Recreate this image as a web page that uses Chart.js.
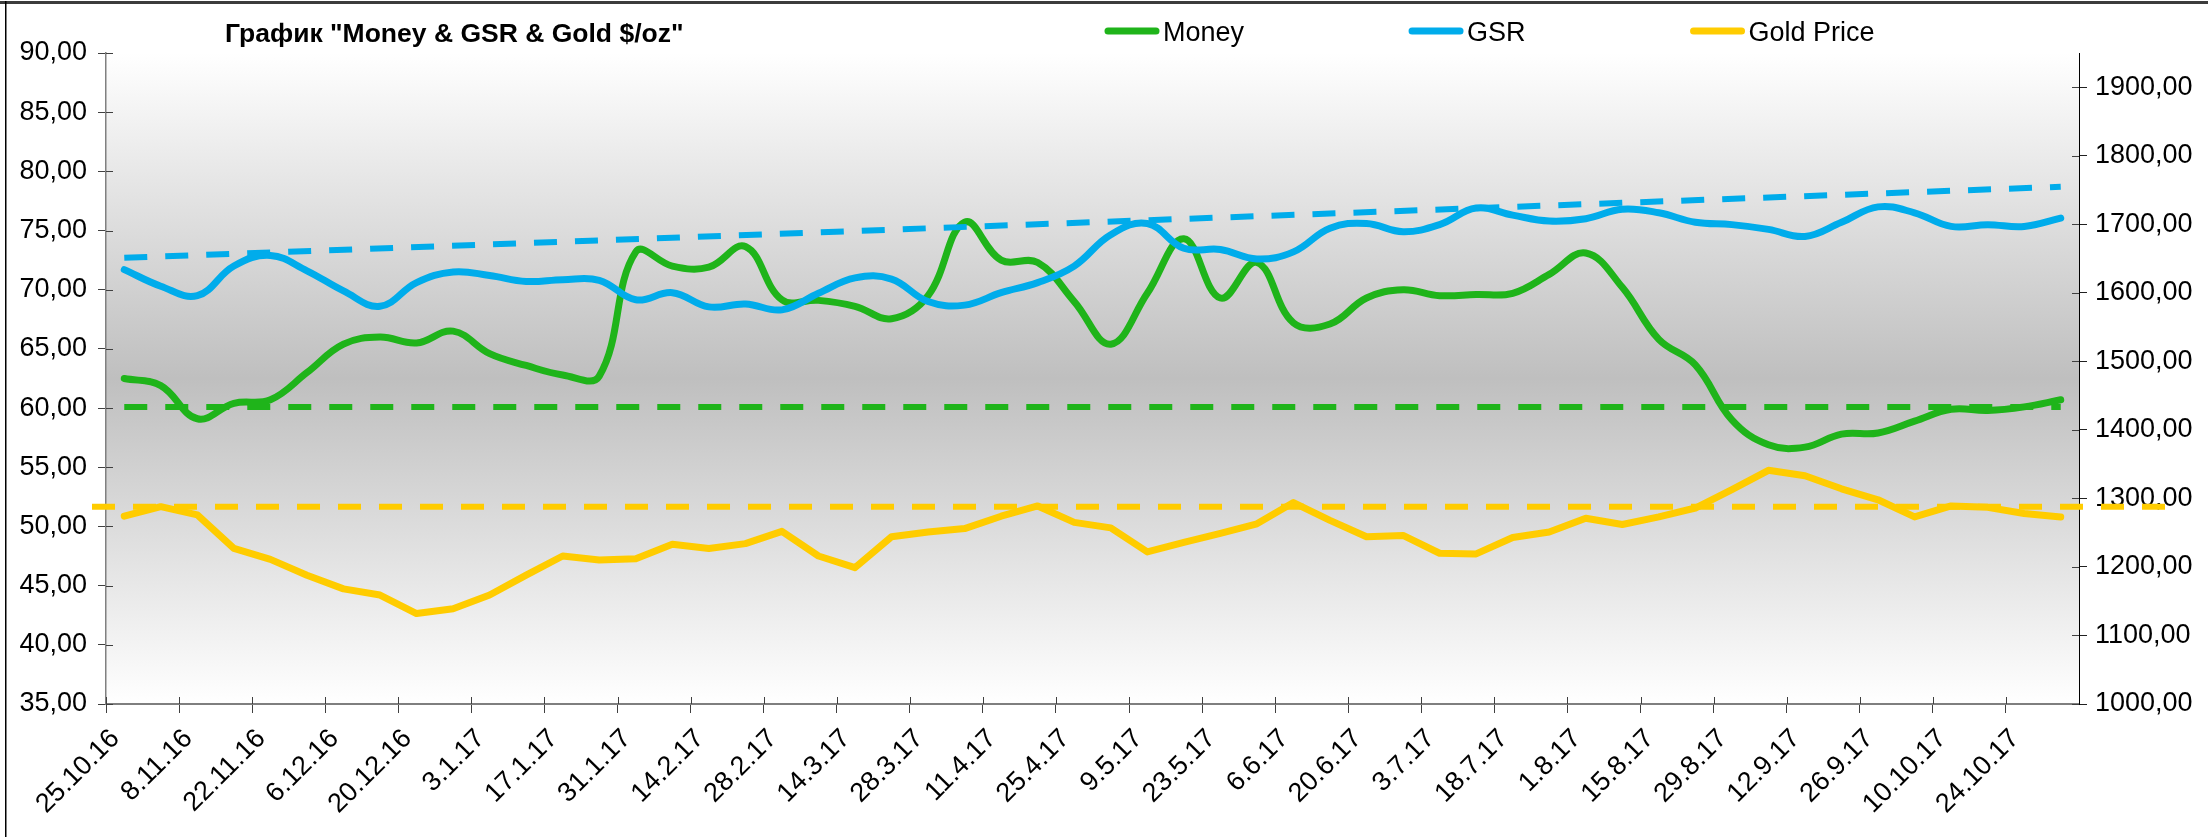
<!DOCTYPE html>
<html>
<head>
<meta charset="utf-8">
<title>Money & GSR & Gold $/oz</title>
<script src="https://cdn.jsdelivr.net/npm/chart.js@4.4.1/dist/chart.umd.min.js"></script>
<style>
  html, body { margin: 0; padding: 0; background: #fff; }
  #wrap { width: 2208px; height: 837px; position: relative; }
</style>
</head>
<body>
<div id="wrap"><canvas id="chart" width="2208" height="837"></canvas></div>
<script>
// weekly report dates (every second one is labelled on the axis)
const labels = [
  '25.10.16', '1.11.16', '8.11.16', '15.11.16', '22.11.16', '29.11.16', '6.12.16', '13.12.16',
  '20.12.16', '27.12.16', '3.1.17', '10.1.17', '17.1.17', '24.1.17', '31.1.17', '7.2.17',
  '14.2.17', '21.2.17', '28.2.17', '7.3.17', '14.3.17', '21.3.17', '28.3.17', '4.4.17',
  '11.4.17', '18.4.17', '25.4.17', '2.5.17', '9.5.17', '16.5.17', '23.5.17', '30.5.17',
  '6.6.17', '13.6.17', '20.6.17', '27.6.17', '3.7.17', '11.7.17', '18.7.17', '25.7.17',
  '1.8.17', '8.8.17', '15.8.17', '22.8.17', '29.8.17', '5.9.17', '12.9.17', '19.9.17',
  '26.9.17', '3.10.17', '10.10.17', '17.10.17', '24.10.17', '31.10.17'
];

const money = [
  62.5, 61.9, 59.1, 60.4, 60.7, 63.0, 65.4, 66.0, 65.5, 66.5, 64.6, 63.6, 62.8, 62.7,
  73.2, 72.0, 71.9, 73.65, 69.15, 69.1, 68.6, 67.55, 69.5, 75.7, 72.5, 72.3, 69.0,
  65.4, 69.7, 74.3, 69.3, 72.3, 67.2, 67.1, 69.3, 70.0, 69.5, 69.6, 69.7, 71.3,
  73.1, 70.2, 65.8, 63.65, 59.0, 56.9, 56.7, 57.8, 57.9, 58.9, 59.9, 59.8, 60.1, 60.7
];

const gsr = [
  71.7, 70.3, 69.5, 72.0, 72.9, 71.6, 69.9, 68.6, 70.6, 71.5, 71.2, 70.7, 70.85, 70.8,
  69.15, 69.75, 68.55, 68.8, 68.3, 69.7, 71.0, 70.9, 69.0, 68.7, 69.75, 70.6, 72.0,
  74.65, 75.6, 73.5, 73.4, 72.6, 73.2, 75.2, 75.6, 74.9, 75.5, 76.9, 76.3, 75.8,
  76.0, 76.8, 76.5, 75.7, 75.5, 75.1, 74.5, 75.7, 77.0, 76.5, 75.35, 75.5, 75.35, 76.05
];

const gold = [
  1274, 1288, 1276, 1227, 1211, 1188, 1168, 1159, 1132, 1139, 1159, 1188, 1216, 1210,
  1212, 1233, 1227, 1234, 1252, 1216, 1199, 1244, 1251, 1256, 1274, 1289, 1265,
  1257, 1222, 1236, 1249, 1263, 1294, 1268, 1244, 1246, 1220, 1219, 1243, 1251,
  1271, 1262, 1273, 1286, 1313, 1341, 1333, 1314, 1298, 1273, 1289, 1287, 1278, 1273
];

// dashed reference lines
const gsrTrend = [72.7, 78.7];   // first and last week
const moneyLevel = 60.1;
const goldLevel = 1288;

const chartTitle = 'График "Money & GSR & Gold $/oz"';

const GREEN = '#1FB41A';
const BLUE = '#00ACEB';
const YELLOW = '#FFCC00';
const FONT = '"Liberation Sans", Arial, sans-serif';

Chart.defaults.font.family = FONT;
Chart.defaults.color = '#000';

const fmt = v => v.toFixed(2).replace('.', ',');

const plotBackground = {
  id: 'plotBackground',
  beforeDraw(chart) {
    const {ctx, chartArea: a} = chart;
    const g = ctx.createLinearGradient(0, a.top, 0, a.bottom);
    g.addColorStop(0, '#ffffff');
    g.addColorStop(0.5, '#bfbfbf');
    g.addColorStop(1, '#ffffff');
    ctx.save();
    ctx.fillStyle = g;
    ctx.fillRect(a.left, a.top, a.right - a.left, a.bottom - a.top);
    ctx.restore();
  }
};

const goldLevelLine = {
  id: 'goldLevelLine',
  afterDatasetsDraw(chart) {
    const {ctx, chartArea: a} = chart;
    const y = chart.scales.y2.getPixelForValue(goldLevel);
    ctx.save();
    ctx.strokeStyle = YELLOW;
    ctx.lineWidth = 6;
    ctx.setLineDash([23, 18]);
    ctx.beginPath();
    ctx.moveTo(a.left - 14, y);
    ctx.lineTo(a.right + 96, y);
    ctx.stroke();
    ctx.restore();
  }
};

// excel style "cross" tick marks: inner half of each tick
const innerTicks = {
  id: 'innerTicks',
  afterDraw(chart) {
    const {ctx, chartArea: a, scales} = chart;
    ctx.save();
    ctx.strokeStyle = '#404040';
    ctx.lineWidth = 1;
    ctx.beginPath();
    scales.y.ticks.forEach(t => {
      const p = Math.round(scales.y.getPixelForValue(t.value)) + 0.5;
      ctx.moveTo(a.left, p); ctx.lineTo(a.left + 7, p);
    });
    scales.y2.ticks.forEach(t => {
      const p = Math.round(scales.y2.getPixelForValue(t.value)) + 0.5;
      ctx.moveTo(a.right - 7, p); ctx.lineTo(a.right, p);
    });
    const step = scales.x.getPixelForValue(1) - scales.x.getPixelForValue(0);
    for (let i = 0; i < labels.length; i += 2) {
      const p = Math.round(scales.x.getPixelForValue(i) - step / 2) + 0.5;
      ctx.moveTo(p, a.bottom); ctx.lineTo(p, a.bottom - 7);
    }
    ctx.stroke();
    ctx.restore();
  }
};

const header = {
  id: 'header',
  afterDraw(chart) {
    const ctx = chart.ctx;
    ctx.save();
    // frame edges
    ctx.fillStyle = '#3c3c3c';
    ctx.fillRect(0, 1, 2208, 3);
    ctx.fillStyle = '#000';
    ctx.fillRect(5, 1, 1.5, 836);

    ctx.textBaseline = 'alphabetic';
    ctx.font = 'bold 26.5px ' + FONT;
    ctx.fillText(chartTitle, 225, 42);

    ctx.font = '27px ' + FONT;
    let x = 1104;
    chart.data.datasets.filter(d => d.inLegend).forEach(d => {
      ctx.strokeStyle = d.borderColor;
      ctx.lineWidth = 7;
      ctx.lineCap = 'round';
      ctx.beginPath();
      ctx.moveTo(x + 4, 31);
      ctx.lineTo(x + 52, 31);
      ctx.stroke();
      ctx.fillText(d.label, x + 59, 41);
      x += 59 + ctx.measureText(d.label).width + 164;
    });
    ctx.restore();
  }
};

new Chart(document.getElementById('chart'), {
  type: 'line',
  data: {
    labels: labels,
    datasets: [
      {
        label: 'Money', inLegend: true, data: money, yAxisID: 'y',
        borderColor: GREEN, borderWidth: 7, tension: 0.4,
        borderCapStyle: 'round', borderJoinStyle: 'round', pointRadius: 0, order: 3
      },
      {
        label: 'GSR', inLegend: true, data: gsr, yAxisID: 'y',
        borderColor: BLUE, borderWidth: 7, tension: 0.4,
        borderCapStyle: 'round', borderJoinStyle: 'round', pointRadius: 0, order: 2
      },
      {
        label: 'Gold Price', inLegend: true, data: gold, yAxisID: 'y2',
        borderColor: YELLOW, borderWidth: 7, tension: 0,
        borderCapStyle: 'round', borderJoinStyle: 'round', pointRadius: 0, order: 1
      },
      {
        label: 'GSR trend', data: [
          {x: labels[0], y: gsrTrend[0]},
          {x: labels[labels.length - 1], y: gsrTrend[1]}
        ], yAxisID: 'y',
        borderColor: BLUE, borderWidth: 6, borderDash: [23, 18], pointRadius: 0, order: 0
      },
      {
        label: 'Money level', data: [
          {x: labels[0], y: moneyLevel},
          {x: labels[labels.length - 1], y: moneyLevel}
        ], yAxisID: 'y',
        borderColor: GREEN, borderWidth: 6, borderDash: [23, 18], pointRadius: 0, order: 0
      }
    ]
  },
  options: {
    responsive: false,
    animation: false,
    devicePixelRatio: 1,
    layout: { padding: { top: 53, left: 0, right: 0, bottom: 0 } },
    plugins: {
      legend: { display: false },
      title: { display: false },
      tooltip: { enabled: false }
    },
    scales: {
      x: {
        offset: true,
        ticks: {
          autoSkip: false, maxRotation: 45, minRotation: 45, padding: 10, labelOffset: -9,
          font: { size: 27 },
          callback: (v, i) => (i % 2 === 0 ? labels[i] : '')
        },
        grid: {
          offset: true, drawOnChartArea: false, tickLength: 9,
          color: c => (c.index % 2 === 0 ? '#404040' : 'rgba(0,0,0,0)')
        },
        border: { color: '#7f7f7f', width: 2 },
        afterFit: s => { s.height = 133; }
      },
      y: {
        position: 'left', min: 35, max: 90,
        ticks: { stepSize: 5, padding: 11, font: { size: 27 }, callback: v => fmt(v) },
        grid: { drawOnChartArea: false, tickLength: 8, color: '#404040' },
        border: { color: '#808080', width: 1.5 },
        afterFit: s => { s.width = 106; }
      },
      y2: {
        position: 'right', min: 1000, max: 1950,
        ticks: { stepSize: 100, includeBounds: false, padding: 8, font: { size: 27 }, callback: v => fmt(v) },
        grid: { drawOnChartArea: false, tickLength: 8, color: '#202020' },
        border: { color: '#000', width: 1 },
        afterFit: s => { s.width = 129; }
      }
    }
  },
  plugins: [plotBackground, goldLevelLine, innerTicks, header]
});
</script>
</body>
</html>
